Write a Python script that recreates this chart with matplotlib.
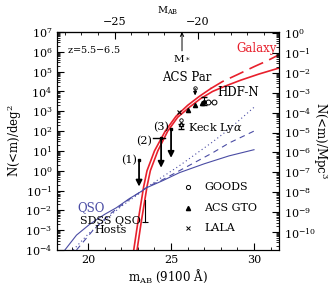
import numpy as np
import matplotlib
matplotlib.use("Agg")
import matplotlib.pyplot as plt
from matplotlib.ticker import LogLocator, MultipleLocator, NullFormatter, FixedLocator

plt.rcParams['font.family'] = ['DejaVu Serif']
plt.rcParams['mathtext.fontset'] = 'dejavuserif'
plt.rcParams['xtick.direction'] = 'in'
plt.rcParams['ytick.direction'] = 'in'

# galaxy counts (log10 N per deg^2)
gal_m = [22.95, 23.2, 23.55, 23.75, 24.2, 24.8, 25.4, 26.1, 26.8, 27.5, 28.2, 29.2, 30.3, 31.5]
gal_logn = [-4.0, -2.6, -0.8, 0.0, 1.0, 2.0, 2.7, 3.2, 3.65, 4.0, 4.25, 4.57, 4.88, 5.18]
gal2_m = [22.75, 23.0, 23.35, 23.55, 24.0, 24.65, 25.3, 26.0, 26.7, 27.4, 28.1, 29.0, 30.0, 30.8, 31.5]
gal2_logn = [-4.0, -2.6, -0.8, 0.0, 1.0, 2.0, 2.75, 3.3, 3.75, 4.15, 4.5, 4.85, 5.25, 5.55, 5.85]

# QSO and QSO-host curves
qso_m = [18.6, 19.3, 20.1, 21.0, 21.7, 22.5, 23.1, 23.55, 24.5, 25.5, 27.0, 28.5, 30.0]
qso_logn = [-4.0, -3.25, -2.7, -2.2, -1.87, -1.4, -1.1, -0.85, -0.5, -0.1, 0.35, 0.75, 1.06]
host_dot_m = [19.1, 20.0, 21.0, 22.0, 23.0, 23.6, 24.5, 25.5, 26.5, 27.5, 28.5, 30.0]
host_dot_logn = [-4.0, -3.2, -2.5, -1.8, -1.2, -0.8, -0.3, 0.25, 0.85, 1.45, 2.1, 3.2]
host_dash_m = [19.3, 20.3, 21.3, 22.3, 23.0, 23.6, 24.5, 25.5, 26.5, 27.5, 28.5, 30.0]
host_dash_logn = [-4.0, -3.0, -2.2, -1.55, -1.15, -0.8, -0.45, 0.0, 0.45, 0.9, 1.4, 2.0]

# upper limits (1), (2), (3)
lim_m = [23.07, 24.4, 25.0]
lim_top = [0.55, 1.65, 2.1]
lim_bot = [-0.8, 0.15, 0.65]

# survey points
gto_m = [26.0, 26.45, 26.85]
gto_logn = [3.07, 3.3, 3.4]
goods_m = [27.0, 27.25, 27.6]
goods_logn = [3.45, 3.45, 3.45]
lala_m = [25.5]
lala_logn = [2.98]

red = '#e8202c'
blue = '#4a4ca4'

fig = plt.figure(figsize=(3.32, 2.86), dpi=100)
ax = fig.add_axes([0.172, 0.126, 0.668, 0.762])
ax.set_yscale('log')

gm = np.array(gal2_m)
gn = 10 ** np.array(gal2_logn)
ax.plot(gal_m, 10 ** np.array(gal_logn), color=red, lw=1.2)
solid_part = gm <= 27.4
ax.plot(gm[solid_part], gn[solid_part], color=red, lw=1.2)
ax.plot(gm[gm >= 27.0], gn[gm >= 27.0], color=red, lw=1.2, dashes=(9, 4))

ax.plot(qso_m, 10 ** np.array(qso_logn), color=blue, lw=0.8)
ax.plot(host_dot_m, 10 ** np.array(host_dot_logn), color=blue, lw=0.8, ls=(0, (1, 2.5)))
ax.plot(host_dash_m, 10 ** np.array(host_dash_logn), color=blue, lw=0.8, dashes=(5, 4))

for m, t, b in zip(lim_m, lim_top, lim_bot):
    ax.annotate('', xy=(m, 10 ** b), xytext=(m, 10 ** t),
                arrowprops=dict(arrowstyle='-|>', color='k', lw=1.3, mutation_scale=9,
                                shrinkA=0, shrinkB=0))
    ax.plot(m, 10 ** t, 's', color='k', ms=2)
ax.plot([23.92, 24.64], [10 ** 1.65, 10 ** 1.65], color='k', lw=1.0)
ax.text(22.45, 10 ** 0.55, '(1)', fontsize=8, ha='center', va='center')
ax.text(23.35, 10 ** 1.5, '(2)', fontsize=8, ha='center', va='center')
ax.text(24.4, 10 ** 2.2, '(3)', fontsize=8, ha='center', va='center')

ax.plot(gto_m, 10 ** np.array(gto_logn), '^', color='k', ms=3)
ax.plot(goods_m[1:], 10 ** np.array(goods_logn[1:]), 'o', mfc='white', mec='k', ms=3.5, mew=0.7)
ax.plot(goods_m, 10 ** np.array(goods_logn), '-', color='k', lw=0.7, zorder=1)
ax.plot(lala_m, 10 ** np.array(lala_logn), 'x', color='k', ms=3, mew=0.8)
# HDF-N
ax.errorbar([27.0], [10 ** 3.45], yerr=[[10 ** 3.45 - 10 ** 3.33], [10 ** 3.72 - 10 ** 3.45]],
            fmt='o', color='k', ms=2.5, capsize=2, lw=0.8)
# Keck Lya
ax.errorbar([25.6], [10 ** 2.35], yerr=[[10 ** 2.35 - 10 ** 2.1], [0]],
            fmt='^', mfc='white', color='k', ms=3, capsize=2.5, lw=0.8)
ax.plot([25.6], [10 ** 2.56], 'o', mfc='white', mec='k', ms=2.5, mew=0.6)
# ACS Par
ax.plot([26.45], [10 ** 4.2], 'o', mfc='white', mec='k', ms=2.5, mew=0.6)
ax.annotate('', xy=(26.45, 10 ** 3.8), xytext=(26.45, 10 ** 4.15),
            arrowprops=dict(arrowstyle='-|>', color='k', lw=0.8, mutation_scale=5,
                            shrinkA=0, shrinkB=0))
# SDSS QSO host bar
ax.plot([23.43, 23.43], [10 ** -1.5, 10 ** -2.6], color='k', lw=0.8)
ax.plot([23.43], [10 ** -2.6], '_', color='k', ms=5, mew=0.8)

ax.text(18.7, 10 ** 6.1, 'z=5.5$-$6.5', fontsize=7, ha='left', va='center')
ax.text(31.35, 10 ** 6.15, 'Galaxy', fontsize=8.5, color=red, ha='right', va='center')
ax.text(27.8, 10 ** 3.95, 'HDF-N', fontsize=8.5, ha='left', va='center')
ax.text(25.95, 10 ** 4.7, 'ACS Par', fontsize=8.5, ha='center', va='center')
ax.text(26.0, 10 ** 2.15, r'Keck Ly$\alpha$', fontsize=8, ha='left', va='center')
ax.text(20.2, 10 ** -1.85, 'QSO', fontsize=8.5, color=blue, ha='center', va='center')
ax.text(21.35, 10 ** -2.75, 'SDSS QSO\nHosts', fontsize=8, ha='center', va='center',
        linespacing=0.85)

# legend
leg_y = [-0.8, -1.9, -2.9]
ax.plot(26.05, 10 ** leg_y[0], 'o', mfc='white', mec='k', ms=3, mew=0.7)
ax.plot(26.05, 10 ** leg_y[1], '^', color='k', ms=3)
ax.plot(26.05, 10 ** leg_y[2], 'x', color='k', ms=3, mew=0.7)
for y, s in zip(leg_y, ['GOODS', 'ACS GTO', 'LALA']):
    ax.text(27.0, 10 ** y, s, fontsize=8, ha='left', va='center')

ax.set_xlim(18.13, 31.5)
ax.set_ylim(1e-4, 1e7)
ax.xaxis.set_major_locator(FixedLocator([20, 25, 30]))
ax.xaxis.set_minor_locator(MultipleLocator(1))
ax.yaxis.set_major_locator(LogLocator(base=10, numticks=30))
ax.yaxis.set_minor_locator(LogLocator(base=10, subs=np.arange(2, 10), numticks=300))
ax.yaxis.set_minor_formatter(NullFormatter())
ax.tick_params(axis='both', which='major', length=5, labelsize=8, width=0.8)
ax.tick_params(axis='both', which='minor', length=2.5, width=0.6)
ax.tick_params(axis='x', top=False)
ax.set_xlabel(r'm$_{\rm AB}$ (9100 $\rm\AA$)', fontsize=8.5, labelpad=2)
ax.set_ylabel(r'N(<m)/deg$^2$', fontsize=8.5, labelpad=1)

# M* marker
ax.annotate('', xy=(25.66, 1e7), xytext=(25.66, 10 ** 6.05),
            arrowprops=dict(arrowstyle='->', color='k', lw=0.7, mutation_scale=6,
                            shrinkA=0, shrinkB=0))
ax.text(25.66, 10 ** 5.7, r'M$_*$', fontsize=7.5, ha='center', va='center')

top = ax.secondary_xaxis('top', functions=(lambda m: m - 46.6, lambda M: M + 46.6))
top.xaxis.set_major_locator(FixedLocator([-25, -20]))
top.xaxis.set_minor_locator(MultipleLocator(1))
top.tick_params(which='major', length=5, labelsize=8, width=0.8, direction='in')
top.tick_params(which='minor', length=2.5, width=0.6, direction='in')
top.set_xlabel(r'M$_{\rm AB}$', fontsize=7, labelpad=3)

ax2 = ax.twinx()
ax2.set_yscale('log')
ax2.set_ylim(10 ** -10.9, 10 ** 0.05)
ax2.yaxis.set_major_locator(LogLocator(base=10, numticks=30))
ax2.yaxis.set_minor_locator(LogLocator(base=10, subs=np.arange(2, 10), numticks=300))
ax2.yaxis.set_minor_formatter(NullFormatter())
ax2.tick_params(which='major', length=5, labelsize=8, width=0.8)
ax2.tick_params(which='minor', length=2.5, width=0.6)
ax2.set_ylabel(r'N(<m)/Mpc$^3$', fontsize=8.5, rotation=-90, labelpad=10)

fig.savefig('out.png', dpi=100)
